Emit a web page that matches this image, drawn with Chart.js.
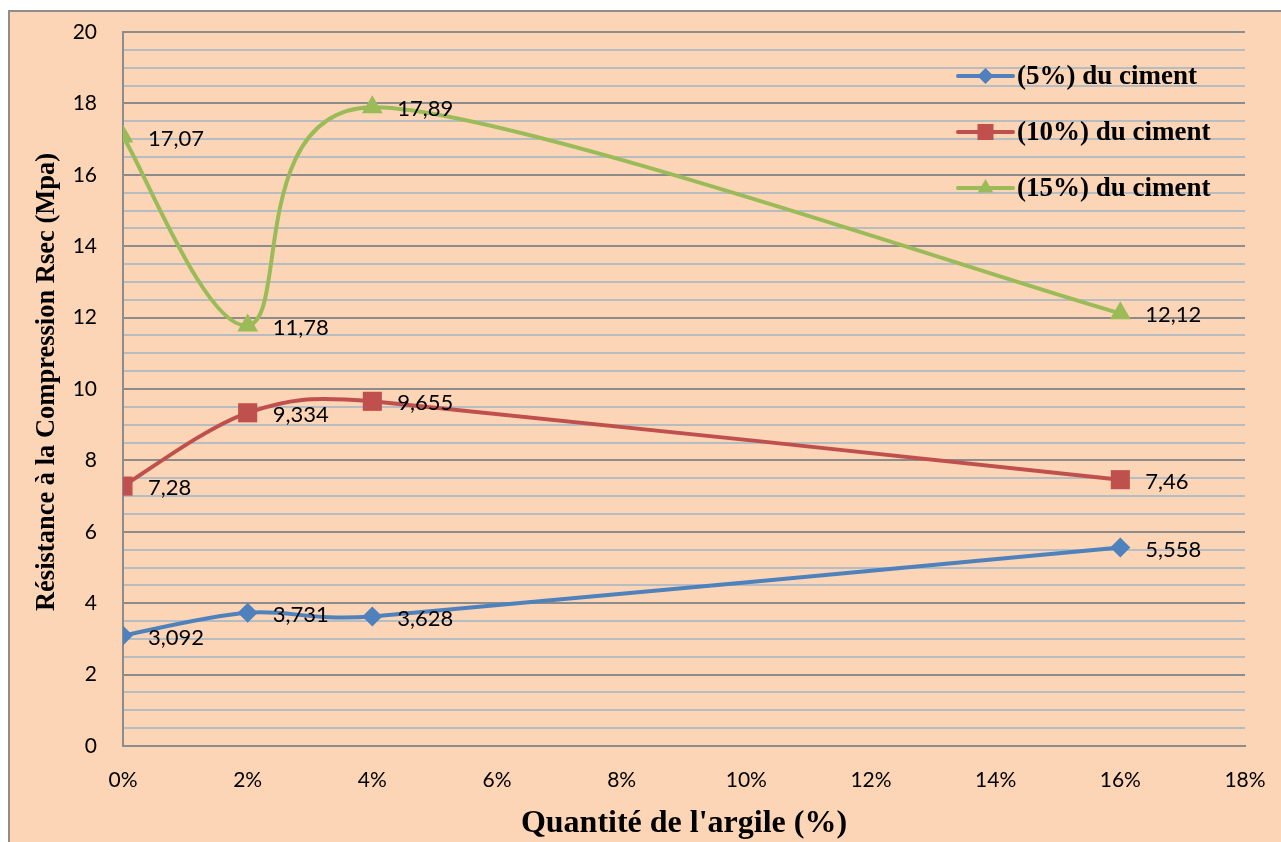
<!DOCTYPE html>
<html lang="fr">
<head>
<meta charset="utf-8">
<title>Résistance à la compression</title>
<script src="https://cdn.jsdelivr.net/npm/chart.js@4/dist/chart.umd.min.js"></script>
<style>
  html, body { margin: 0; padding: 0; background: #ffffff; }
  canvas { display: block; }
</style>
</head>
<body>
<canvas id="chart" width="1281" height="842"></canvas>
<script>
// Clay content (%) on the x axis
const clayPercent = [0, 2, 4, 16];

// Dry compressive strength Rsec (MPa) for each cement dosage
const cement5 = [3.092, 3.731, 3.628, 5.558];
const cement10 = [7.28, 9.334, 9.655, 7.46];
const cement15 = [17.07, 11.78, 17.89, 12.12];

const seriesNames = ['(5%) du ciment', '(10%) du ciment', '(15%) du ciment'];
const seriesColors = ['#4F81BD', '#C0504D', '#9BBB59'];
const seriesMarkers = ['rectRot', 'rect', 'triangle'];

const xTitle = "Quantité de l'argile (%)";
const yTitle = 'Résistance à la Compression Rsec (Mpa)';

const PEACH = '#FBD5B5';
const MAJOR_GRID = '#8C8C8C';
const MINOR_GRID = '#B7BCC1';

function toPoints(values) {
  return values.map((v, i) => ({ x: clayPercent[i], y: v }));
}

function frLabel(v) {
  return String(v).replace('.', ',');
}

// Page background and the frame around the chart
const framePlugin = {
  id: 'frame',
  beforeDraw(chart) {
    const ctx = chart.ctx;
    ctx.save();
    ctx.fillStyle = '#ffffff';
    ctx.fillRect(0, 0, chart.width, chart.height);
    ctx.fillStyle = PEACH;
    ctx.fillRect(8, 10, chart.width - 8, chart.height - 10);
    ctx.strokeStyle = '#8E8E8E';
    ctx.lineWidth = 2;
    ctx.beginPath();
    ctx.moveTo(9, chart.height);
    ctx.lineTo(9, 11);
    ctx.lineTo(chart.width, 11);
    ctx.stroke();
    ctx.restore();
  }
};

// Smoothed lines: Bezier handles along (next - prev) / 6 at each point,
// shortened so that no handle reaches past half of its neighbouring segment
const smoothPlugin = {
  id: 'smooth',
  afterDatasetsUpdate(chart) {
    const dist = (a, b) => Math.hypot(b.x - a.x, b.y - a.y);
    chart.data.datasets.forEach((ds, i) => {
      const meta = chart.getDatasetMeta(i);
      const pts = meta.data;
      const n = pts.length;
      for (let k = 0; k < n; k++) {
        const p = pts[k];
        const prev = pts[Math.max(k - 1, 0)];
        const next = pts[Math.min(k + 1, n - 1)];
        const d02 = dist(prev, next);
        let f = 1 / 6;
        if (d02 > 0) {
          const d01 = dist(prev, p);
          const d12 = dist(p, next);
          if (k > 0) f = Math.min(f, d01 / (2 * d02));
          if (k < n - 1) f = Math.min(f, d12 / (2 * d02));
        }
        const tx = (next.x - prev.x) * f;
        const ty = (next.y - prev.y) * f;
        p.cp1x = p.x - tx; p.cp1y = p.y - ty;
        p.cp2x = p.x + tx; p.cp2y = p.y + ty;
      }
      if (meta.dataset) meta.dataset._pointsUpdated = true;
    });
  }
};

function drawMarker(ctx, style, x, y, r, color) {
  ctx.fillStyle = color;
  ctx.beginPath();
  if (style === 'rectRot') {
    ctx.moveTo(x - r, y); ctx.lineTo(x, y - r); ctx.lineTo(x + r, y); ctx.lineTo(x, y + r);
  } else if (style === 'rect') {
    ctx.rect(x - r, y - r, 2 * r, 2 * r);
  } else {
    const w = r * Math.sqrt(3);
    ctx.moveTo(x, y - r); ctx.lineTo(x + w / 2, y + r / 2); ctx.lineTo(x - w / 2, y + r / 2);
  }
  ctx.closePath();
  ctx.fill();
}

// Value labels, legend and axis titles
const annotatePlugin = {
  id: 'annotate',
  afterDatasetsDraw(chart) {
    const ctx = chart.ctx;
    ctx.save();
    ctx.fillStyle = '#000000';
    ctx.font = '22px Lato';
    ctx.textAlign = 'left';
    ctx.textBaseline = 'middle';
    chart.data.datasets.forEach((ds, i) => {
      const meta = chart.getDatasetMeta(i);
      meta.data.forEach((p, k) => {
        ctx.fillText(frLabel(ds.data[k].y), p.x + 25, p.y + 2);
      });
    });

    // legend
    const lx0 = 958, lx1 = 1013, ly0 = 76, lstep = 56;
    const legendSizes = [8, 8, 9];
    seriesNames.forEach((name, i) => {
      const y = ly0 + i * lstep;
      ctx.strokeStyle = seriesColors[i];
      ctx.lineWidth = 4;
      ctx.lineCap = 'round';
      ctx.beginPath();
      ctx.moveTo(lx0, y);
      ctx.lineTo(lx1, y);
      ctx.stroke();
      drawMarker(ctx, seriesMarkers[i], (lx0 + lx1) / 2, y, legendSizes[i], seriesColors[i]);
      ctx.fillStyle = '#000000';
      ctx.font = 'bold 27px "Liberation Serif"';
      ctx.textBaseline = 'middle';
      ctx.fillText(name, 1017, y + 1);
    });

    // axis titles
    const area = chart.chartArea;
    ctx.fillStyle = '#000000';
    ctx.textAlign = 'center';
    ctx.font = 'bold 32px "Liberation Serif"';
    ctx.fillText(xTitle, (area.left + area.right) / 2, 824);
    ctx.save();
    ctx.translate(47, 382);
    ctx.rotate(-Math.PI / 2);
    ctx.font = 'bold 26.5px "Liberation Serif"';
    ctx.fillText(yTitle, 0, 0);
    ctx.restore();
    ctx.restore();
  }
};

const datasets = [cement5, cement10, cement15].map((vals, i) => ({
  label: seriesNames[i],
  data: toPoints(vals),
  borderColor: seriesColors[i],
  backgroundColor: seriesColors[i],
  borderWidth: 4,
  tension: 0.4,
  fill: false,
  pointStyle: seriesMarkers[i],
  pointRadius: [10, 13.5, 12][i],
  pointHoverRadius: [10, 13.5, 12][i],
  pointBackgroundColor: seriesColors[i],
  pointBorderColor: seriesColors[i],
  pointBorderWidth: 0
}));

Chart.defaults.font.family = 'Lato';
Chart.defaults.color = '#000000';

new Chart(document.getElementById('chart'), {
  type: 'line',
  data: { datasets },
  options: {
    responsive: false,
    animation: false,
    layout: { padding: { left: 0, top: 32, right: 36, bottom: 0 } },
    plugins: {
      legend: { display: false },
      tooltip: { enabled: false }
    },
    scales: {
      x: {
        type: 'linear',
        min: 0,
        max: 18,
        afterFit(scale) {
          scale.height = 96;
          scale.paddingLeft = 0;
          scale.paddingRight = 0;
        },
        grid: { display: false, drawTicks: false },
        border: { display: true, color: MAJOR_GRID, width: 2 },
        ticks: {
          stepSize: 2,
          padding: 22,
          font: { size: 21 },
          callback: (v) => v + '%'
        }
      },
      y: {
        min: 0,
        max: 20,
        afterFit(scale) {
          scale.width = 123;
          scale.paddingTop = 0;
          scale.paddingBottom = 0;
        },
        grid: {
          drawTicks: false,
          lineWidth: 2,
          color: (c) => (c.tick && Math.abs(c.tick.value % 2) < 1e-9) ? MAJOR_GRID : MINOR_GRID
        },
        border: { display: true, color: MAJOR_GRID, width: 2 },
        ticks: {
          stepSize: 0.5,
          autoSkip: false,
          padding: 26,
          font: { size: 21 },
          callback: (v) => (Math.abs(v % 2) < 1e-9) ? String(v) : ''
        }
      }
    }
  },
  plugins: [framePlugin, smoothPlugin, annotatePlugin]
});
</script>
</body>
</html>
